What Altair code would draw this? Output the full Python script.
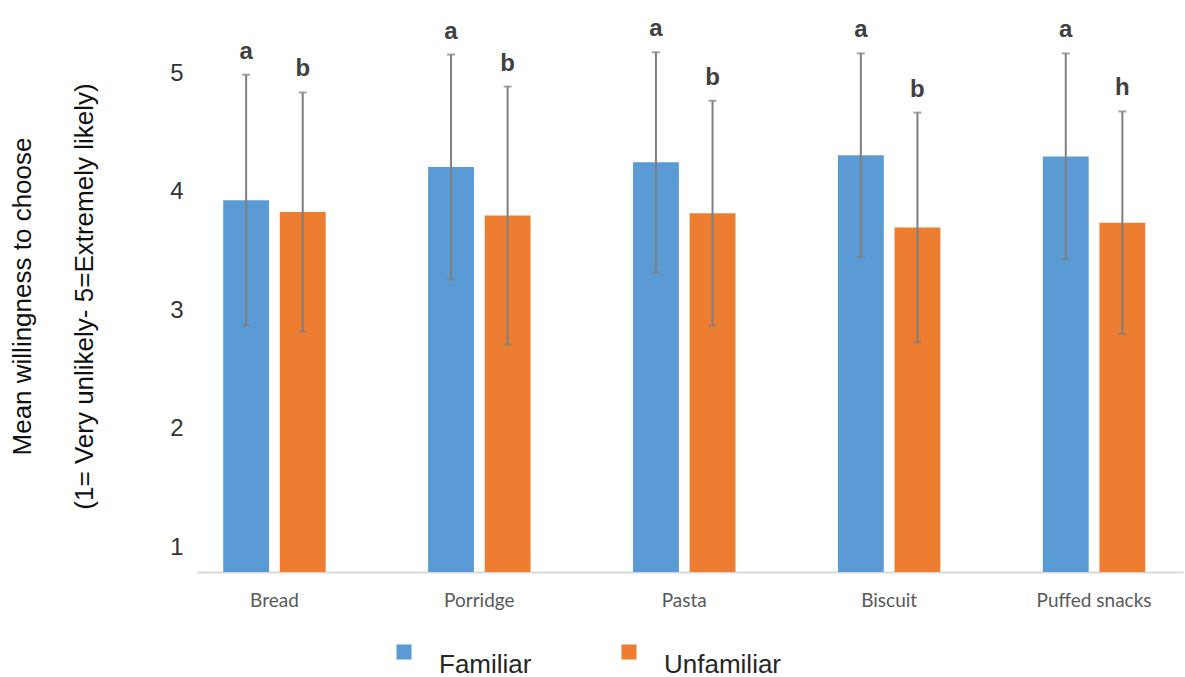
import altair as alt
import pandas as pd

# Mean willingness to choose each food, familiar vs unfamiliar version
foods = ["Bread", "Porridge", "Pasta", "Biscuit", "Puffed snacks"]
groups = ["Familiar", "Unfamiliar"]

familiar_mean = [3.93, 4.21, 4.25, 4.31, 4.30]
familiar_sd = [1.06, 0.95, 0.93, 0.86, 0.87]
familiar_letters = ["a", "a", "a", "a", "a"]

unfamiliar_mean = [3.83, 3.80, 3.82, 3.70, 3.74]
unfamiliar_sd = [1.01, 1.09, 0.95, 0.97, 0.94]
unfamiliar_letters = ["b", "b", "b", "b", "h"]

y_ticks = [1, 2, 3, 4, 5]

rows = []
for grp, means, sds, letters in [
    ("Familiar", familiar_mean, familiar_sd, familiar_letters),
    ("Unfamiliar", unfamiliar_mean, unfamiliar_sd, unfamiliar_letters),
]:
    for food, m, s, l in zip(foods, means, sds, letters):
        rows.append({"food": food, "group": grp, "mean": m,
                     "lo": m - s, "hi": m + s, "letter": l})
df = pd.DataFrame(rows)

x_enc = alt.X(
    "food:N", sort=foods,
    scale=alt.Scale(paddingInner=0.5, paddingOuter=0.156, align=0.41),
    axis=alt.Axis(title=None, labelAngle=0, ticks=False, domainColor="#d9d9d9",
                  domainWidth=2, labelFontSize=19, labelColor="#595959",
                  labelFont="Lato", labelPadding=19),
)
xo_enc = alt.XOffset("group:N", sort=groups,
                     scale=alt.Scale(paddingInner=0.19, paddingOuter=0))

y_scale = alt.Scale(domain=[0.79, 5.3], nice=False, zero=False)

base = alt.Chart(df)

bars = base.mark_bar().encode(
    x=x_enc,
    xOffset=xo_enc,
    y=alt.Y(
        "mean:Q", scale=y_scale,
        axis=alt.Axis(
            values=y_ticks, format="d", grid=False, ticks=False, domain=False,
            labelFontSize=24, labelPadding=14, labelColor="#333333",
            labelFont="Liberation Sans",
            title=["Mean willingness to choose",
                   "(1= Very unlikely- 5=Extremely likely)"],
            titleFont="Liberation Sans", titleFontSize=26,
            titleFontWeight="normal", titleColor="#111111",
            titleLineHeight=62, titleX=-188, titleY=258,
            titleAlign="center", titleBaseline="top",
        ),
    ),
    y2=alt.datum(0.79),
    color=alt.Color(
        "group:N", sort=groups,
        scale=alt.Scale(domain=groups, range=["#5b9bd5", "#ed7d31"]),
        legend=alt.Legend(
            title=None, orient="none", legendX=194, legendY=601,
            direction="horizontal", symbolType="square", symbolSize=225,
            symbolStrokeWidth=0, labelFontSize=26, labelFont="Liberation Sans",
            labelColor="#262626", labelOffset=22, columnPadding=84,
            labelBaseline="top", labelLimit=300, padding=0,
        ),
    ),
)

err_color = "#7f7f7f"

whisker = base.mark_rule(color=err_color, strokeWidth=2).encode(
    x=x_enc, xOffset=xo_enc,
    y=alt.Y("lo:Q", scale=y_scale), y2="hi:Q",
)
cap_lo = base.mark_tick(color=err_color, size=8, thickness=2).encode(
    x=x_enc, xOffset=xo_enc, y=alt.Y("lo:Q", scale=y_scale),
)
cap_hi = base.mark_tick(color=err_color, size=8, thickness=2).encode(
    x=x_enc, xOffset=xo_enc, y=alt.Y("hi:Q", scale=y_scale),
)
letters = base.mark_text(
    font="Liberation Sans", fontSize=24, fontWeight="bold", color="#404040",
    baseline="alphabetic", dy=-16,
).encode(
    x=x_enc, xOffset=xo_enc, y=alt.Y("hi:Q", scale=y_scale), text="letter:N",
)

chart = (
    alt.layer(bars, whisker, cap_lo, cap_hi, letters)
    .properties(
        width=986, height=534,
        autosize=alt.AutoSizeParams(type="none"),
        padding={"left": 197, "top": 38, "right": 2, "bottom": 105},
        background="white",
    )
    .configure_view(stroke=None)
)

chart.save("out.html", embed_options={"renderer": "svg", "actions": False})
